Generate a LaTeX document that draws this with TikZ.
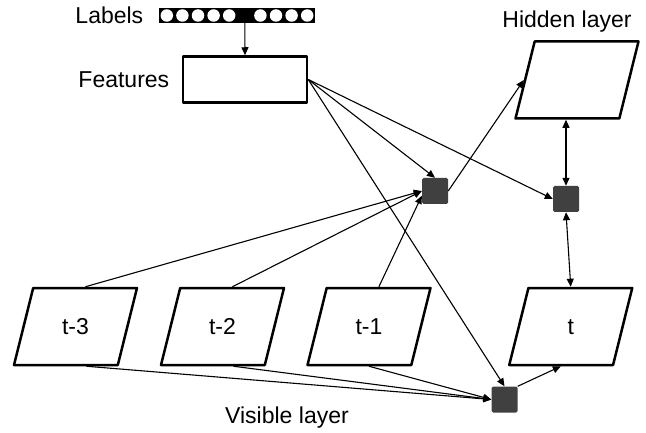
\documentclass[tikz,border=0pt]{standalone}
\usepackage{fontspec}
\setmainfont{Liberation Sans}
\usetikzlibrary{shapes.geometric,arrows.meta,positioning}
\definecolor{factorgray}{RGB}{64,64,64}
\tikzset{
  layer/.style={trapezium, trapezium left angle=76, trapezium right angle=104,
    trapezium stretches body, draw, line width=2.5pt, minimum width=123pt,
    text height=16pt, text depth=0pt, inner ysep=30.5pt, inner xsep=2pt},
  factor/.style={rectangle, fill=factorgray, minimum size=26pt, inner sep=0pt,
    rounded corners=1.5pt},
  unit/.style={circle, fill=white, minimum size=12.5pt, inner sep=0pt},
  conn/.style={line width=1.1pt},
}
\begin{document}
\begin{tikzpicture}[x=1pt, y=-1pt, >={Triangle[length=8pt,width=7pt]},
  line join=round, font=\fontsize{23}{27}\selectfont]
\useasboundingbox (0,0) rectangle (646,433);
% label units and features
\node[fill=black, minimum width=156pt, minimum height=14.5pt, inner sep=0pt] (bar) at (237,15.5) {};
\foreach \i in {1,2,3,4,5,7,8,9,10}
  \node[unit] (c\i) at ({151.2+15.6*\i},15.5) {};
\node[unit, fill=black] (c6) at (244.8,15.5) {};
\node[left=12pt of bar] (labeltxt) {Labels};
\node[draw, line width=2.5pt, minimum width=124pt, minimum height=46pt, inner sep=0pt] (feat) at (245,79.5) {};
\node[left=9pt of feat] (feattxt) {Features};
% hidden layer
\node[layer] (hid) at (577,80) {};
\node (hidtxt) at (567,22) {Hidden layer};
% visible layer
\node[layer] (t3) at (75.5,326.5) {t-3};
\node[layer] (t2) at (222.5,326.5) {t-2};
\node[layer] (t1) at (369,326.5) {t-1};
\node[layer] (t0) at (570.75,326.5) {t};
\node (vistxt) at (287,418) {Visible layer};
% factors
\node[factor] (fa) at (435,191) {};
\node[factor] (fb) at (566,199) {};
\node[factor] (fc) at (504.5,399.5) {};
% connectors
\draw[conn,->] (c6.south) -- (feat.north);
\draw[conn,->] (feat.east) -- (fa.north);
\draw[conn,->] (feat.east) -- (fb.west);
\draw[conn,->] (feat.east) -- (fc.north);
\draw[conn,->] (t3.top side) -- (fa.west);
\draw[conn,->] (t2.top side) -- (fa.west);
\draw[conn,->] (t1.top side) -- (fa.200);
\draw[conn,->] (fa.east) -- (hid.left side);
\draw[conn,<->] (fb.north) -- (fb.north |- hid.south);
\draw[conn,<->] (fb.south) -- (t0.north);
\draw[conn,->] ([xshift=11pt]t3.south) -- (fc.west);
\draw[conn,->] ([xshift=11pt]t2.south) -- (fc.west);
\draw[conn,->] (t1.south) -- (fc.west);
\draw[conn,->] (fc.north east) -- (t0.bottom side);
\end{tikzpicture}
\end{document}
